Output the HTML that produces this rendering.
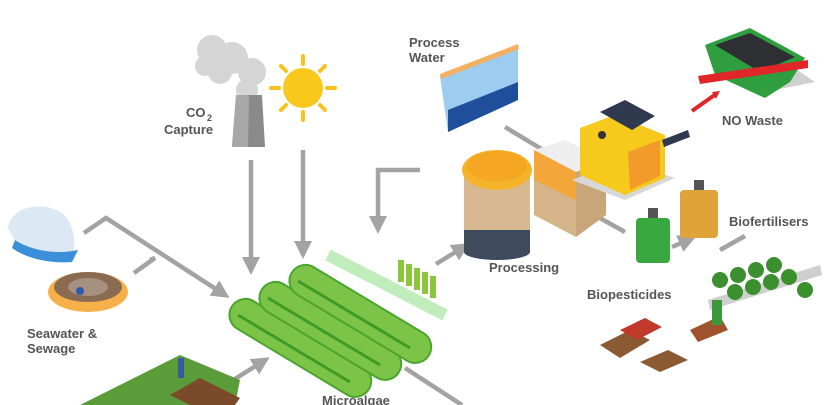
<!DOCTYPE html>
<html><head><style>
html,body{margin:0;padding:0;background:#fff;}
svg{display:block}
text{font-family:"Liberation Sans",sans-serif;font-weight:bold;fill:#555;font-size:13px}
</style></head><body>
<svg width="840" height="405" viewBox="0 0 840 405" xmlns="http://www.w3.org/2000/svg">
<defs>
<marker id="ah" markerWidth="4" markerHeight="4" refX="2" refY="2" orient="auto" markerUnits="strokeWidth"><path d="M0,0 L4,2 L0,4 z" fill="#a3a3a3"/></marker>
</defs>
<g stroke="#a3a3a3" stroke-width="4.5" fill="none">
<line x1="251" y1="160" x2="251" y2="266" marker-end="url(#ah)"/>
<line x1="303" y1="150" x2="303" y2="250" marker-end="url(#ah)"/>
<polyline points="420,170 378,170 378,225" marker-end="url(#ah)"/>
<polyline points="84,233 106,218 222,293" marker-end="url(#ah)"/>
<polyline points="134,273 155,258 150,260"/>
<line x1="230" y1="382" x2="262" y2="362" marker-end="url(#ah)"/>
<line x1="436" y1="264" x2="462" y2="248" marker-end="url(#ah)"/>
<line x1="405" y1="368" x2="462" y2="405"/>
<line x1="505" y1="127" x2="548" y2="153"/>
<line x1="598" y1="217" x2="625" y2="232"/>
<line x1="672" y1="247" x2="688" y2="240" marker-end="url(#ah)"/>
<line x1="720" y1="250" x2="745" y2="236"/>
</g>
<!-- smoke -->
<g fill="#d5d5d5">
<circle cx="212" cy="50" r="15"/><circle cx="232" cy="58" r="16"/><circle cx="252" cy="72" r="14"/><circle cx="220" cy="72" r="12"/><circle cx="247" cy="90" r="11"/><circle cx="205" cy="66" r="10"/>
</g>
<path d="M236,95 L262,95 L265,147 L232,147 Z" fill="#8a8a8a"/>
<path d="M236,95 L249,95 L248,147 L232,147 Z" fill="#a8a8a8"/>
<text x="186" y="117">CO</text><text x="207" y="121" style="font-size:9px">2</text>
<text x="164" y="134">Capture</text>
<!-- sun -->
<g stroke="#f7c21a" stroke-width="4" stroke-linecap="round">
<line x1="303" y1="56" x2="303" y2="64"/><line x1="303" y1="112" x2="303" y2="120"/>
<line x1="271" y1="88" x2="279" y2="88"/><line x1="327" y1="88" x2="335" y2="88"/>
<line x1="281" y1="66" x2="286" y2="71"/><line x1="320" y1="105" x2="325" y2="110"/>
<line x1="281" y1="110" x2="286" y2="105"/><line x1="320" y1="71" x2="325" y2="66"/>
</g>
<circle cx="303" cy="88" r="20" fill="#f8c91c"/>
<!-- process water -->
<text x="409" y="47">Process</text><text x="409" y="62">Water</text>
<path d="M440,76 L518,46 L518,100 L448,132 Z" fill="#9ccdf0"/>
<path d="M448,110 L518,82 L518,100 L448,132 Z" fill="#1f4f9a"/>
<path d="M440,74 L518,44 L519,49 L441,79 Z" fill="#f2b060"/>
<!-- tank -->
<rect x="464" y="170" width="66" height="80" fill="#d7b890"/>
<rect x="464" y="230" width="66" height="22" fill="#3f4a5c"/>
<ellipse cx="497" cy="252" rx="33" ry="8" fill="#3f4a5c"/>
<ellipse cx="497" cy="170" rx="35" ry="20" fill="#f5b32a"/>
<ellipse cx="497" cy="166" rx="30" ry="15" fill="#f5a623"/>
<!-- box -->
<path d="M534,150 L565,140 L606,160 L576,172 Z" fill="#eeeeee"/>
<path d="M534,150 L576,172 L576,237 L534,215 Z" fill="#d5b48a"/>
<path d="M534,150 L576,172 L576,200 L534,180 Z" fill="#f3a63a"/>
<path d="M576,172 L606,160 L606,215 L576,237 Z" fill="#c9a57a"/>
<!-- machine -->
<path d="M572,180 L625,200 L675,178 L622,160 Z" fill="#d8d8d8"/>
<path d="M580,128 L615,115 L665,135 L665,178 L625,195 L580,175 Z" fill="#f6c91d"/>
<path d="M600,112 L625,100 L655,116 L632,130 Z" fill="#2f3a4e"/>
<path d="M628,152 L660,140 L660,176 L630,190 Z" fill="#f29b2a"/>
<path d="M662,140 L688,130 L690,137 L664,147 Z" fill="#2f3a4e"/>
<circle cx="602" cy="135" r="4" fill="#333"/>
<!-- skip -->
<path d="M775,90 L815,82 L790,65 Z" fill="#d0d0d0"/>
<path d="M705,45 L750,28 L805,58 L790,82 L765,98 L715,75 Z" fill="#2f9e3e"/>
<path d="M715,45 L750,33 L795,57 L760,72 Z" fill="#2d2f33"/>
<path d="M698,76 L808,60 L808,68 L700,84 Z" fill="#e02629"/>
<line x1="692" y1="111" x2="716" y2="94" stroke="#e02629" stroke-width="4"/>
<path d="M720,91 L712,92 L716,99 Z" fill="#e02629"/>
<text x="722" y="125">NO Waste</text>
<!-- jugs -->
<rect x="680" y="190" width="38" height="48" rx="4" fill="#e0a33a"/>
<rect x="694" y="180" width="10" height="10" fill="#555"/>
<rect x="636" y="218" width="34" height="45" rx="4" fill="#39a83e"/>
<rect x="648" y="208" width="10" height="10" fill="#555"/>
<text x="729" y="226">Biofertilisers</text>
<text x="587" y="299">Biopesticides</text>
<text x="489" y="272">Processing</text>
<!-- plants -->
<path d="M708,300 L820,265 L822,275 L710,310 Z" fill="#cfcfcf"/>
<g fill="#3c8f2f">
<circle cx="720" cy="280" r="8"/><circle cx="738" cy="275" r="8"/><circle cx="756" cy="270" r="8"/><circle cx="774" cy="265" r="8"/>
<circle cx="735" cy="292" r="8"/><circle cx="753" cy="287" r="8"/><circle cx="771" cy="282" r="8"/><circle cx="789" cy="277" r="8"/><circle cx="805" cy="290" r="8"/>
</g>
<!-- crates -->
<path d="M600,345 L630,330 L650,340 L620,358 Z" fill="#8b5a33"/>
<path d="M620,330 L645,318 L662,327 L637,340 Z" fill="#c0392b"/>
<path d="M640,362 L668,350 L688,360 L660,372 Z" fill="#8b5a33"/>
<path d="M690,330 L720,316 L728,330 L698,342 Z" fill="#a0522d"/>
<rect x="712" y="300" width="10" height="25" fill="#3a9a3a"/>
<!-- seawater -->
<path d="M8,228 C10,208 40,200 60,212 C75,220 78,250 70,258 L20,250 Z" fill="#dce9f5"/>
<path d="M15,240 C30,250 55,255 78,250 L72,262 C50,264 25,258 12,248 Z" fill="#3b8fd8"/>
<ellipse cx="88" cy="292" rx="40" ry="20" fill="#f5b04a"/>
<ellipse cx="88" cy="287" rx="34" ry="15" fill="#8a6a50"/>
<ellipse cx="88" cy="287" rx="20" ry="9" fill="#a89080"/>
<circle cx="80" cy="291" r="4" fill="#2a5bb0"/>
<text x="27" y="338">Seawater &amp;</text><text x="27" y="353">Sewage</text>
<!-- farm -->
<path d="M80,405 L180,355 L240,380 L235,405 Z" fill="#5a9b3a"/>
<path d="M170,395 L200,378 L240,398 L235,405 L190,405 Z" fill="#7b4a2a"/>
<rect x="178" y="358" width="6" height="20" fill="#3a5aa0"/>
<!-- tubes -->
<path d="M328,255 L445,315" stroke="#a8e6a0" stroke-width="12" opacity="0.7"/>
<g fill="#8cc63f"><rect x="398" y="260" width="6" height="22"/><rect x="406" y="264" width="6" height="22"/><rect x="414" y="268" width="6" height="22"/><rect x="422" y="272" width="6" height="22"/><rect x="430" y="276" width="6" height="22"/></g>
<!-- ponds -->
<g fill="#7cc447" stroke="#49a52c" stroke-width="2">
<rect x="0" y="0" width="160" height="32" rx="16" transform="translate(240,293) rotate(31)"/>
<rect x="0" y="0" width="160" height="32" rx="16" transform="translate(270,276) rotate(31)"/>
<rect x="0" y="0" width="160" height="32" rx="16" transform="translate(300,259) rotate(31)"/>
</g>
<g stroke="#3f9a28" stroke-width="3">
<line x1="238" y1="315" x2="350" y2="382"/>
<line x1="268" y1="298" x2="380" y2="365"/>
<line x1="298" y1="281" x2="410" y2="348"/>
</g>
<text x="322" y="405">Microalgae</text>
</svg>
</body></html>
